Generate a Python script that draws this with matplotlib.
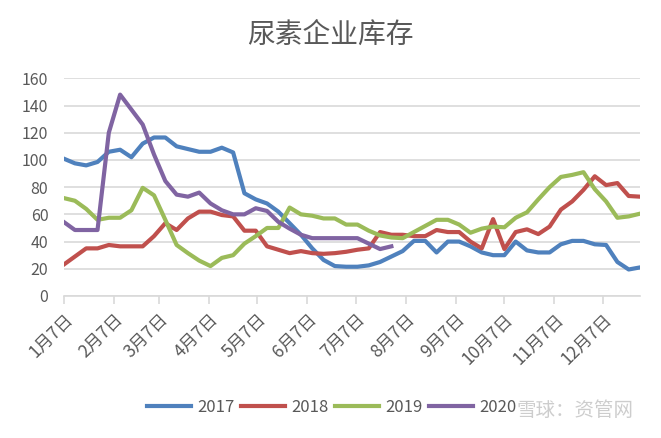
import datetime as dt
import matplotlib
matplotlib.use("Agg")
import matplotlib.pyplot as plt

plt.rcParams['font.family'] = ['Noto Sans CJK SC', 'DejaVu Sans']

# weekly readings, first week = Jan 7
s2017 = [101, 97.5, 96, 98.5, 106, 107.5, 102, 112, 116.5, 116.5, 110, 108, 106, 106, 109, 105.5,
         75.5, 71, 68, 62, 53.5, 45, 35, 26.5, 22, 21.5, 21.5, 22.5, 25, 29, 33, 40.5, 40.5, 32,
         40, 40, 36.5, 32, 30, 30, 40, 33.5, 32, 32, 38, 40.5, 40.5, 38, 37.5, 25, 19.5, 21]
s2018 = [23, 29, 35, 35, 37.5, 36.5, 36.5, 36.5, 44, 53.5, 48.5, 57, 62, 62, 59.5, 58.5, 48, 48,
         36.5, 34, 31.5, 33, 31.5, 31, 31.5, 32.5, 34, 35, 47, 45, 45, 44, 44, 48.5, 47, 47, 40,
         35, 56.5, 34.5, 47, 49, 45.5, 51, 63.5, 69.5, 78, 88, 81.5, 83, 73.5, 73]
s2019 = [72, 70, 64, 56, 57.5, 57.5, 63, 79.5, 74, 56, 37.5, 31.5, 26, 22, 28, 30, 38.5, 44, 50,
         50, 65, 60, 59, 57, 57, 52.5, 52.5, 48, 44.5, 43, 42.5, 47, 51.5, 56, 56, 52.5, 46.5,
         49.5, 51, 50.5, 57.5, 61.5, 71, 80, 87.5, 89, 91, 78.5, 69.5, 57.5, 58.5, 60.5]
s2020 = [54.5, 48.5, 48.5, 48.5, 120, 148, 137, 126, 104, 84.5, 74.5, 73, 76, 68, 63, 60, 60,
         64.5, 62.5, 54.5, 49.5, 45, 42.5, 42.5, 42.5, 42.5, 42.5, 38.5, 34.5, 36.5]

series = {'2017': s2017, '2018': s2018, '2019': s2019, '2020': s2020}
colors = {'2017': '#4F81BD', '2018': '#C0504D', '2019': '#9BBB59', '2020': '#8064A2'}
tick_labels = [f'{m}月7日' for m in range(1, 13)]

base = dt.date(2017, 1, 7)
tick_pos = [(dt.date(2017, m, 7) - base).days for m in range(1, 13)]

fig = plt.figure(figsize=(6.61, 4.38), dpi=100)
ax = fig.add_axes([63.6 / 661, 1 - 296 / 438, (640 - 63.6) / 661, (296 - 78.3) / 438])

for name, vals in series.items():
    x = [7 * i for i in range(len(vals))]
    ax.plot(x, vals, color=colors[name], lw=3, label=name, solid_joinstyle='round')

ax.set_xlim(0, 357)
ax.set_ylim(0, 160)
ax.set_yticks(range(0, 161, 20))
ax.yaxis.grid(True, color='#d9d9d9', lw=1.2)
ax.set_axisbelow(True)
for sp in ['top', 'right', 'left']:
    ax.spines[sp].set_visible(False)
ax.spines['bottom'].set_color('#d9d9d9')
ax.spines['bottom'].set_linewidth(1.2)

ax.set_xticks(tick_pos)
ax.set_xticklabels(tick_labels, rotation=45, ha='right', va='top', rotation_mode='anchor')
ax.tick_params(axis='x', length=6, color='#d9d9d9', width=1.2, labelsize=12.5,
               labelcolor='#595959', pad=4)
ax.tick_params(axis='y', length=0, labelsize=11.5, labelcolor='#595959', pad=11)

fig.text(0.5, 1 - 35 / 438, '尿素企业库存', ha='center', va='center', fontsize=20, color='#595959')

ax.legend(loc='center', bbox_to_anchor=(332 / 661, 1 - 407 / 438), bbox_transform=fig.transFigure,
          ncol=4, frameon=False, fontsize=12, handlelength=2.6, handletextpad=0.4,
          columnspacing=0.4, labelcolor='#595959')

fig.text(575 / 661, 1 - 410 / 438, '雪球：资管网', ha='center', va='center', fontsize=14,
         color='#c8c8c8', alpha=0.9)

fig.savefig('out.png', dpi=100)
